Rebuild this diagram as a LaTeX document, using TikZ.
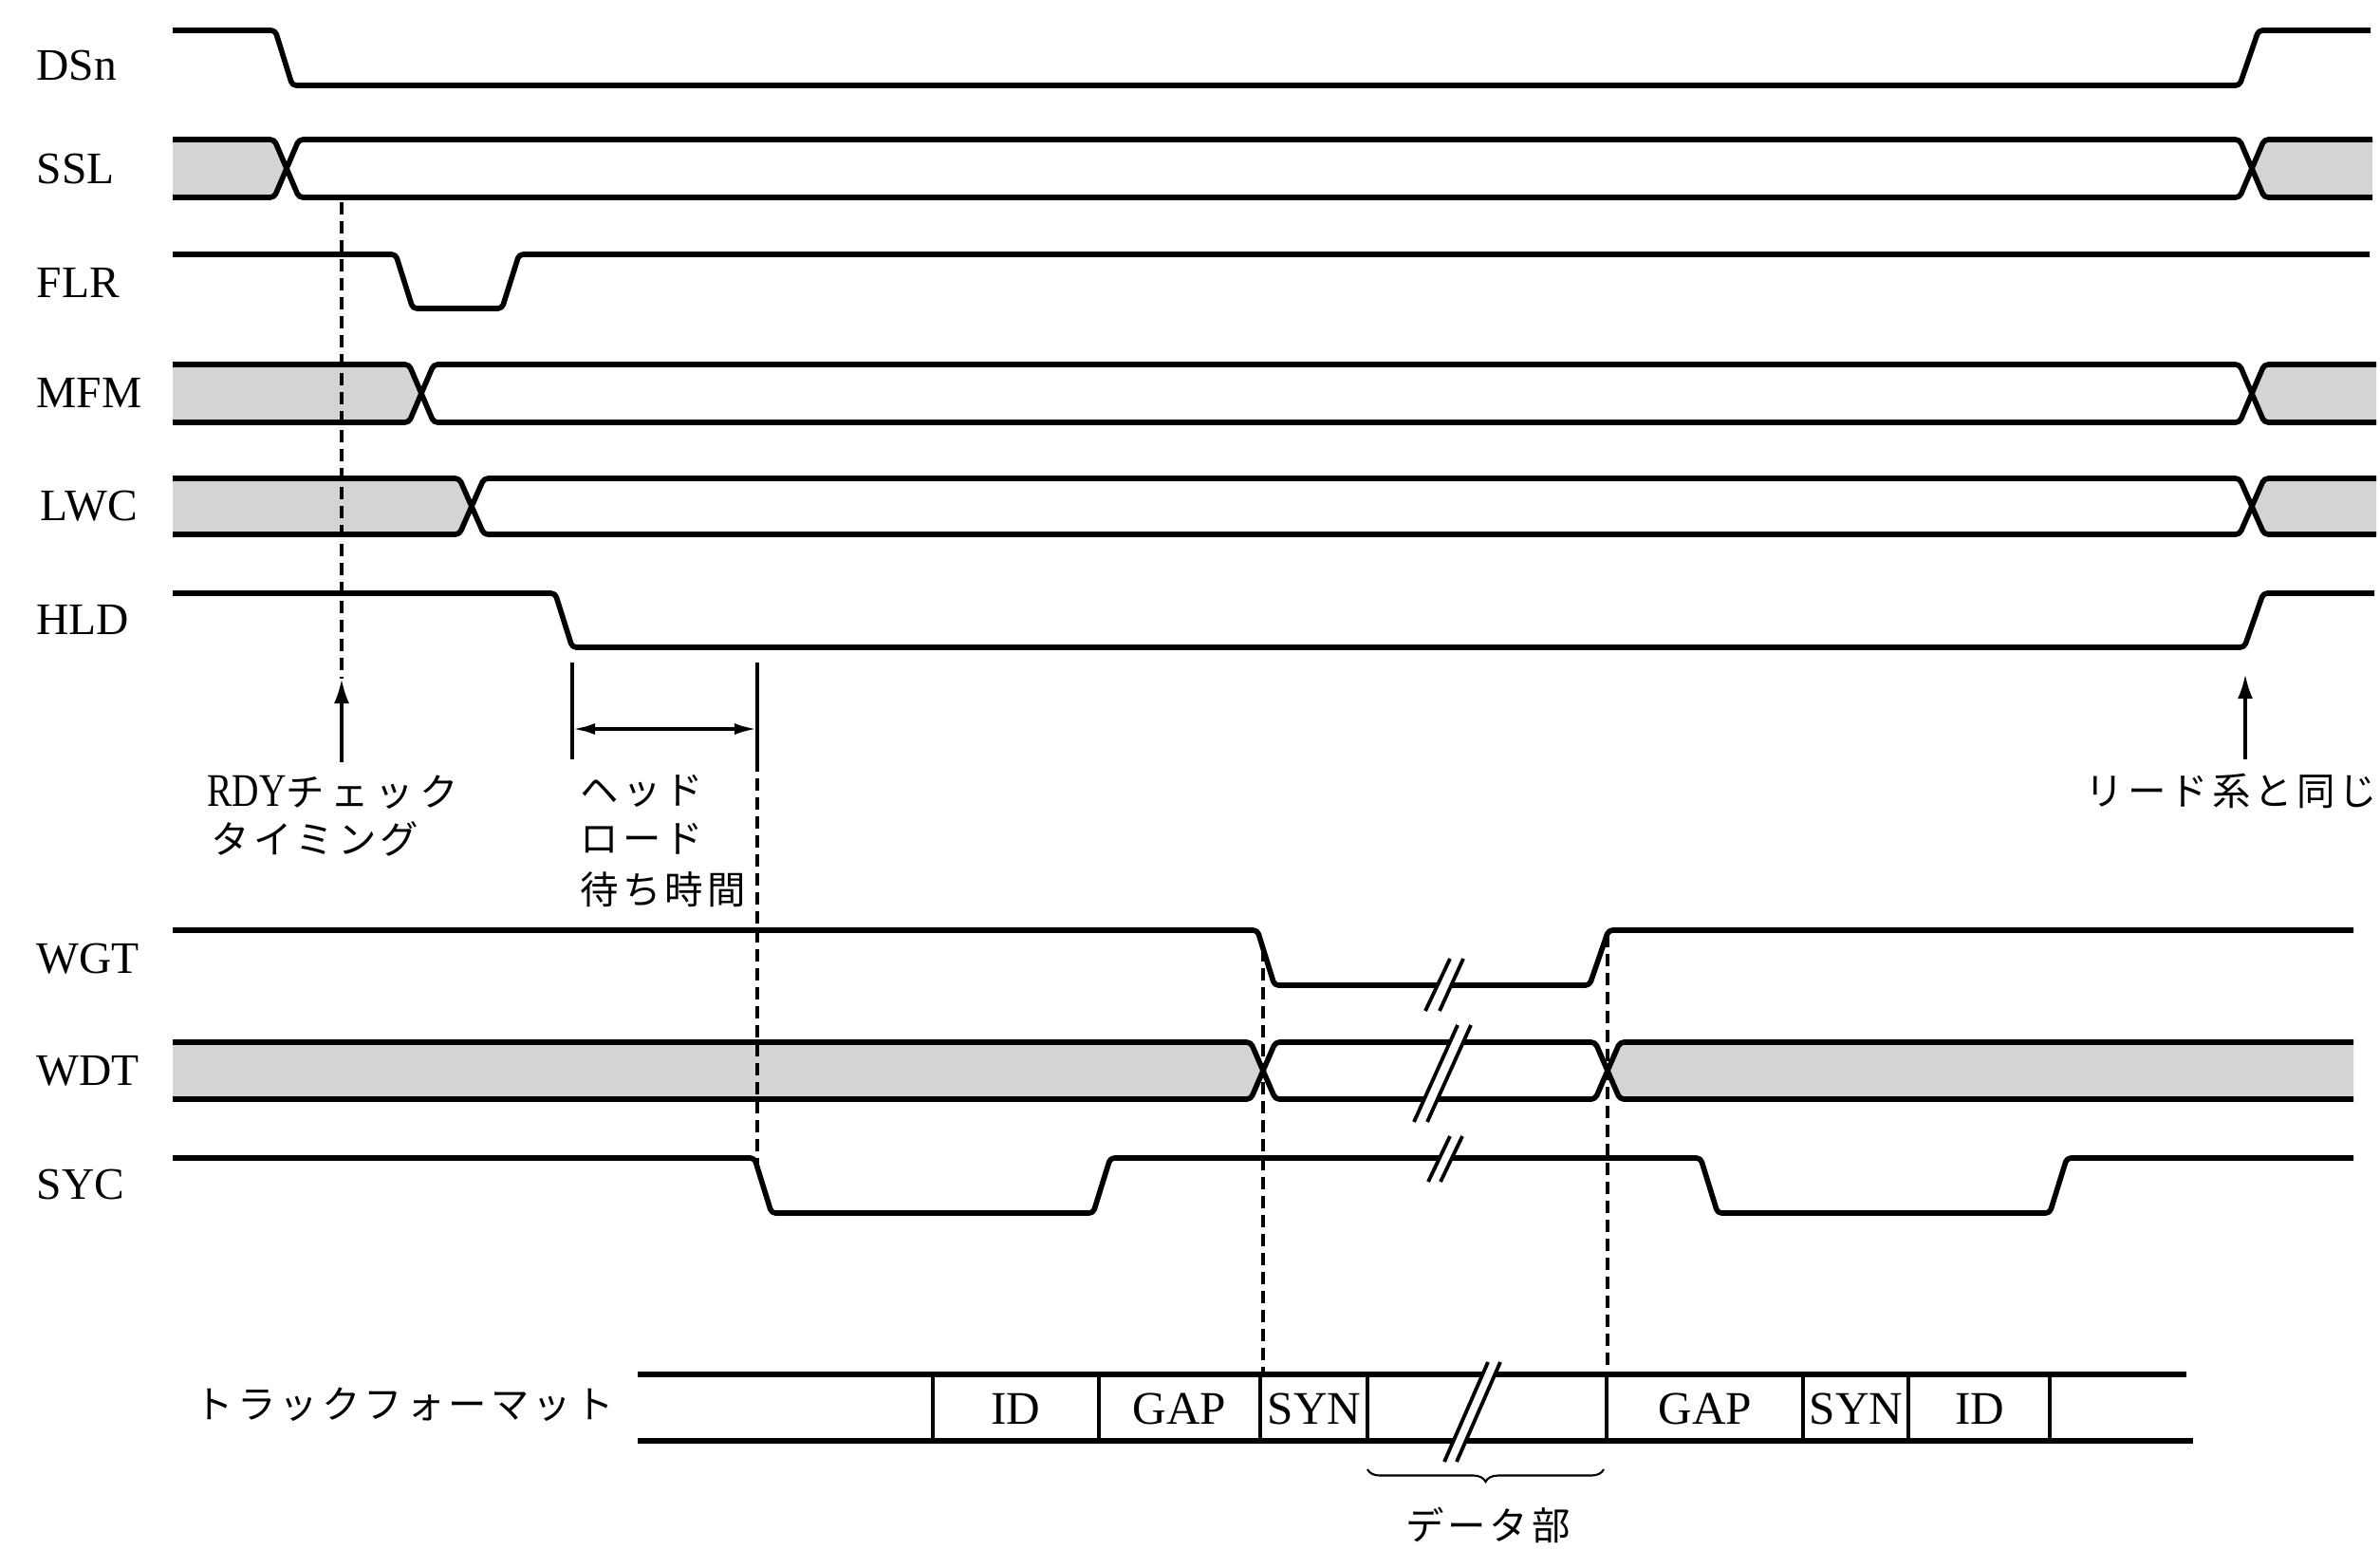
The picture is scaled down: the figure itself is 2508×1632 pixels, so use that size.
\documentclass[tikz,border=0pt]{standalone}
\usepackage{graphicx}
\usepackage{fontspec}
\setmainfont{Liberation Serif}
\newfontfamily\jpfont[LetterSpace=10]{Noto Sans CJK JP}
\newfontfamily\jpwide[LetterSpace=16]{Noto Sans CJK JP}
\newfontfamily\latinfont{Liberation Serif}
\usetikzlibrary{arrows.meta,decorations.pathreplacing}
\newcommand\tbus[5]{% top, bottom, left crossing, right crossing, end
  \pgfmathsetmacro\bmid{(#1+#2)/2}
  \fill[busfill] (182,#1) -- ({#3-13},#1) -- (#3,\bmid) -- ({#3-13},#2) -- (182,#2) -- cycle;
  \fill[busfill] (#4,\bmid) -- ({#4+13},#1) -- (#5,#1) -- (#5,#2) -- ({#4+13},#2) -- cycle;
  \draw[sig] (182,#1) -- ({#3-13},#1) -- ({#3+13},#2) -- ({#4-13},#2) -- ({#4+13},#1) -- (#5,#1);
  \draw[sig] (182,#2) -- ({#3-13},#2) -- ({#3+13},#1) -- ({#4-13},#1) -- ({#4+13},#2) -- (#5,#2);
}
\newcommand\brkmark[6]{% x1 bottom, x1 top, x2 bottom, x2 top, y bottom, y top
  \fill[white] (#1,#5) -- (#2,#6) -- (#4,#6) -- (#3,#5) -- cycle;
  \draw[brk] (#1,#5) -- (#2,#6);
  \draw[brk] (#3,#5) -- (#4,#6);
}
\begin{document}
\begin{tikzpicture}[x=0.01cm,y=-0.01cm,
  sig/.style={line width=1.6pt,line join=round,rounded corners=1.2pt},
  busfill/.style={fill=black!17,draw=none},
  sname/.style={anchor=west,inner sep=0,font=\fontsize{13.5}{14}\selectfont},
  jtext/.style={anchor=west,inner sep=0,font=\fontsize{11.5}{13}\selectfont\jpfont},
  dsh/.style={line width=1pt,dash pattern=on 0.13cm off 0.07cm},
  brk/.style={line width=1.1pt},
  trk/.style={line width=1.9pt},
  cell/.style={line width=0.9pt},
  tlabel/.style={inner sep=0,font=\fontsize{14}{15}\selectfont},
  arr/.style={line width=1.1pt,-{Latex[length=0.26cm,width=0.16cm]}},
  dim/.style={line width=1.1pt,{Latex[length=0.24cm,width=0.12cm]}-{Latex[length=0.24cm,width=0.12cm]}},
  tick/.style={line width=1.1pt},
]
\useasboundingbox (0,0) rectangle (2508,1632);

% ---------- signal names ----------
\node[sname] (nDSn) at (38,69) {DSn};
\node[sname] (nSSL) at (38,178) {SSL};
\node[sname] (nFLR) at (38,298) {FLR};
\node[sname] (nMFM) at (38,414) {MFM};
\node[sname] (nLWC) at (42,533) {LWC};
\node[sname] (nHLD) at (38,653) {HLD};
\node[sname] (nWGT) at (38,1010) {WGT};
\node[sname] (nWDT) at (38,1128) {WDT};
\node[sname] (nSYC) at (38,1248) {SYC};

% ---------- waveforms (upper) ----------
\draw[sig] (182,32) -- (290,32) -- (308,90) -- (2360,90) -- (2380,32) -- (2498,32);
\tbus{147}{208}{302}{2373}{2500}
\draw[sig] (182,268) -- (417,268) -- (435,325) -- (529,325) -- (547,268) -- (2497,268);
\tbus{384}{445}{444}{2373}{2504}
\tbus{504}{563}{497}{2373}{2504}
\draw[sig] (182,625) -- (585,625) -- (603,682) -- (2365,682) -- (2385,625) -- (2502,625);

% ---------- waveforms (write) ----------
\draw[sig] (182,980) -- (1325,980) -- (1343,1038) -- (1675,1038) -- (1695,980) -- (2480,980);
\tbus{1098}{1158}{1331}{1694}{2480}
\draw[sig] (182,1220) -- (795,1220) -- (813,1278) -- (1152,1278) -- (1170,1220) -- (1792,1220) -- (1810,1278) -- (2160,1278) -- (2178,1220) -- (2480,1220);

\brkmark{1502}{1528}{1517}{1542}{1065}{1010}
\brkmark{1490}{1536}{1504}{1550}{1182}{1080}
\brkmark{1505}{1528}{1518}{1541}{1245}{1197}

% ---------- RDY check timing ----------
\coordinate (rdyTop) at (360,213);
\coordinate (rdyTip) at (360,715);
\coordinate (rdyFoot) at (360,803);
\draw[dsh] (rdyTop) -- (rdyTip);
\draw[arr] (rdyFoot) -- (rdyTip);
\node[anchor=west,inner sep=0] (tRDY) at (218,835) {\fontsize{14}{15}\selectfont\latinfont\scalebox{0.8}[1]{RDY}\fontsize{11.5}{13}\selectfont\jpwide チェック};
\node[jtext] (tTiming) at (222,884) {タイミング};

% ---------- head load time ----------
\coordinate (hlA1) at (603,698);
\coordinate (hlA2) at (603,800);
\coordinate (hlB1) at (798,698);
\coordinate (hlB2) at (798,800);
\coordinate (hlB3) at (798,1232);
\draw[tick] (hlA1) -- (hlA2);
\draw[tick] (hlB1) -- (hlB2);
\draw[dsh] (hlB2) -- (hlB3);
\coordinate (hlL) at (603,768);
\coordinate (hlR) at (798,768);
\draw[dim] (hlL) -- (hlR);
\node[jtext] (tHead1) at (611,833) {ヘッド};
\node[jtext] (tHead2) at (611,884) {ロード};
\node[jtext] (tHead3) at (611,937) {待ち時間};

% ---------- right annotation ----------
\coordinate (rTip) at (2366,710);
\coordinate (rFoot) at (2366,800);
\draw[arr] (rFoot) -- (rTip);
\node[jtext,anchor=east] (tSame) at (2506,833) {リード系と同じ};

% ---------- track format ----------
\node[jtext] (tTrack) at (205,1480) {トラックフォーマット};
\draw[trk] (672,1448) -- (2304,1448);
\draw[trk] (672,1518) -- (2311,1518);
\foreach \xx in {983,1158,1328,1441,1693,1900,2011,2160}
  \draw[cell] (\xx,1448) -- (\xx,1518);
\node[tlabel] (fID1) at (1070,1484) {ID};
\node[tlabel] (fGAP1) at (1243,1484) {GAP};
\node[tlabel] (fSYN1) at (1385,1484) {SYN};
\node[tlabel] (fGAP2) at (1797,1484) {GAP};
\node[tlabel] (fSYN2) at (1956,1484) {SYN};
\node[tlabel] (fID2) at (2086,1484) {ID};
\brkmark{1522}{1568}{1535}{1581}{1540}{1435}

% dashed projections
\coordinate (pL1) at (1331,1000);
\coordinate (pL2) at (1331,1448);
\coordinate (pR1) at (1694,985);
\coordinate (pR2) at (1694,1448);
\draw[dsh] (pL1) -- (pL2);
\draw[dsh] (pR1) -- (pR2);

% brace
\coordinate (brL) at (1441,1548);
\coordinate (brR) at (1690,1548);
\draw[line width=0.6pt,decorate,decoration={brace,mirror,amplitude=0.13cm}] (brL) -- (brR);
\node[jtext,anchor=center] (tData) at (1568,1607) {データ部};
\end{tikzpicture}
\end{document}
